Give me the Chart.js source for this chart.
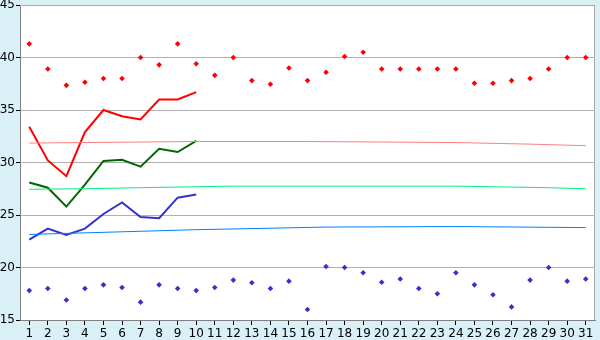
<!DOCTYPE html>
<html>
<head>
<meta charset="utf-8">
<script src="https://cdn.jsdelivr.net/npm/chart.js@4"></script>
<style>
body{margin:0;background:#d9f0f7;}
canvas{display:block;}
</style>
</head>
<body>
<canvas id="tempChart" width="600" height="340"></canvas>
<script>
var days = [];
for (var d = 1; d <= 31; d++) days.push(String(d));
var yTicks = [15, 20, 25, 30, 35, 40, 45];

// scattered daily values
var highPoints = [41.3, 38.9, 37.35, 37.65, 38.0, 38.0, 40.0, 39.3, 41.3, 39.4,
    38.3, 40.0, 37.8, 37.45, 39.0, 37.8, 38.6, 40.1, 40.5, 38.9,
    38.9, 38.9, 38.9, 38.9, 37.55, 37.55, 37.8, 38.0, 38.9, 40.0, 40.0];
var lowPoints = [17.8, 18.0, 16.9, 18.0, 18.35, 18.1, 16.7, 18.35, 18.0, 17.8,
    18.1, 18.8, 18.55, 18.0, 18.7, 16.0, 20.1, 20.0, 19.5, 18.6,
    18.9, 18.0, 17.5, 19.5, 18.35, 17.4, 16.25, 18.8, 20.0, 18.7, 18.9];

// current month lines (10 days)
var maxLine = [33.4, 30.2, 28.7, 32.9, 35.0, 34.4, 34.1, 36.0, 36.0, 36.7];
var avgLine = [28.1, 27.6, 25.8, 27.9, 30.15, 30.25, 29.6, 31.3, 31.0, 32.05];
var minLine = [22.65, 23.7, 23.1, 23.7, 25.1, 26.2, 24.8, 24.7, 26.65, 26.95];

// long term normals (sparse readings, joined by the library)
var maxNormal = [31.85, null, null, null, null, null, null, null, null, 32.0,
    null, null, null, null, null, 32.0, null, null, null, null,
    null, null, null, 31.9, null, null, null, 31.75, null, null, 31.6];
var avgNormal = [27.45, null, null, 27.5, null, null, 27.6, null, null, null,
    null, 27.75, null, null, null, null, null, null, null, null,
    null, null, null, 27.75, null, null, null, null, 27.6, null, 27.5];
var minNormal = [23.15, null, null, null, null, null, null, null, null, 23.6,
    null, null, null, null, null, null, 23.85, null, null, null,
    null, null, null, 23.9, null, null, null, null, null, null, 23.8];

var plotArea = {
    id: "plotArea",
    beforeDraw: function (chart) {
        var c = chart.ctx, a = chart.chartArea;
        c.save();
        c.fillStyle = "#d9f0f7";
        c.fillRect(0, 0, chart.width, chart.height);
        c.fillStyle = "#ffffff";
        c.fillRect(a.left, a.top, a.right - a.left, a.bottom - a.top);
        c.restore();
    },
    afterDatasetsDraw: function (chart) {
        var c = chart.ctx, a = chart.chartArea;
        c.save();
        c.strokeStyle = "#a8a8a8";
        c.lineWidth = 1;
        c.beginPath();
        c.moveTo(a.left, a.top + 0.5);
        c.lineTo(a.right - 0.5, a.top + 0.5);
        c.lineTo(a.right - 0.5, a.bottom);
        c.stroke();
        c.restore();
    }
};

function lineSet(data, color, width) {
    return {
        type: "line",
        data: data,
        borderColor: color,
        backgroundColor: color,
        borderWidth: width,
        pointRadius: 0,
        tension: 0,
        spanGaps: true
    };
}

function pointSet(data, color) {
    return {
        type: "line",
        data: data,
        showLine: false,
        pointStyle: "rectRot",
        pointRadius: 2.8,
        borderWidth: 0,
        backgroundColor: color,
        borderColor: color
    };
}

var chart = new Chart(document.getElementById("tempChart").getContext("2d"), {
    type: "line",
    plugins: [plotArea],
    data: {
        labels: days,
        datasets: [
            lineSet(maxNormal, "#ff8080", 1),
            lineSet(avgNormal, "#00f080", 1),
            lineSet(minNormal, "#0080ff", 1),
            lineSet(maxLine, "#ff0000", 2),
            lineSet(avgLine, "#006600", 2),
            lineSet(minLine, "#3333cc", 2),
            pointSet(highPoints, "#ff0000"),
            pointSet(lowPoints, "#3333cc")
        ]
    },
    options: {
        responsive: false,
        animation: false,
        layout: {padding: {top: 5, right: 5, left: 0, bottom: 0}},
        plugins: {legend: {display: false}, tooltip: {enabled: false}},
        scales: {
            x: {
                offset: true,
                grid: {offset: false, drawOnChartArea: false, drawTicks: true, tickLength: 5, tickColor: "#000"},
                border: {color: "#808080"},
                ticks: {color: "#000", padding: 2, maxRotation: 0, autoSkip: false,
                    font: {family: "DejaVu Sans", size: 12}},
                afterFit: function (s) { s.height = 20; s.paddingLeft = 0; s.paddingRight = 0; }
            },
            y: {
                min: 15,
                max: 45,
                afterBuildTicks: function (s) {
                    s.ticks = yTicks.map(function (v) { return {value: v}; });
                },
                grid: {color: "#b0b0b0", tickLength: 4, tickColor: "#000"},
                border: {color: "#808080"},
                ticks: {color: "#000", padding: 1,
                    font: {family: "DejaVu Sans", size: 12}},
                afterFit: function (s) { s.width = 20; s.paddingTop = 0; s.paddingBottom = 0; }
            }
        }
    }
});
</script>
</body>
</html>
